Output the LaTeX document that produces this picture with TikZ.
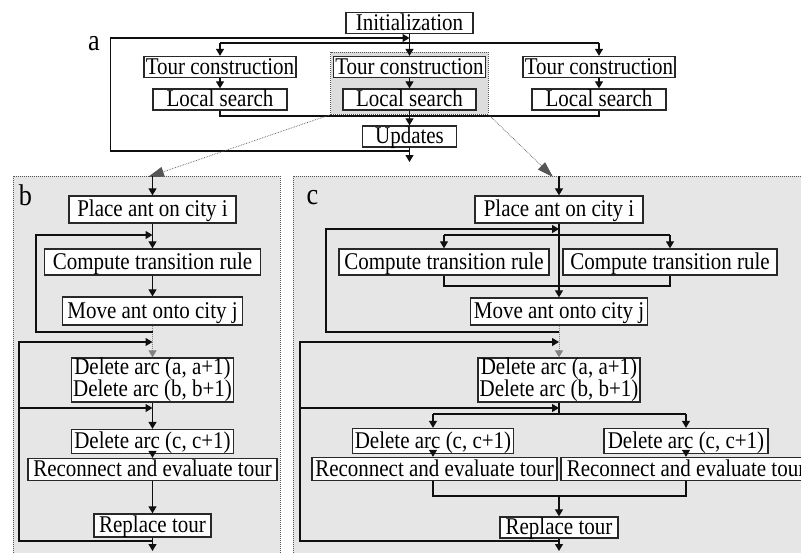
\documentclass[tikz,border=0pt]{standalone}
\usepackage{fontspec}
\setmainfont{Liberation Serif}[FakeStretch=0.875]
\usetikzlibrary{arrows.meta,positioning,fit,backgrounds}
\definecolor{panel}{RGB}{230,230,230}
\definecolor{ink}{RGB}{15,15,15}
\definecolor{rim}{RGB}{40,40,40}
\definecolor{dots}{RGB}{85,85,85}
\definecolor{soft}{RGB}{130,130,130}
\tikzset{
  every picture/.style={font=\fontsize{24}{22}\selectfont},
  blk/.style={draw=rim,fill=white,line width=1.3pt,inner sep=0pt,text height=16pt,text depth=2pt,minimum height=21pt},
  blktwo/.style={draw=rim,fill=white,line width=1.3pt,inner sep=0pt,align=center},
  wire/.style={ink,line width=1.1pt},
  flow/.style={wire,-{Triangle[width=8pt,length=7pt]}},
  lane/.style={draw=dots,fill=panel,densely dotted,line width=1pt},
  pick/.style={draw=dots,fill=panel!96!black,densely dotted,line width=1pt,inner xsep=2pt,inner ysep=3.5pt},
  zoomln/.style={dots,densely dotted,line width=0.7pt,-{Triangle[width=10pt,length=16pt]}},
  ghost/.style={soft,densely dotted,line width=1pt,-{Triangle[width=8pt,length=7pt]}},
  tag/.style={inner sep=0pt,font=\fontsize{30}{30}\selectfont},
}
\begin{document}
\begin{tikzpicture}[x=1pt,y=-1pt]
  \useasboundingbox (0,0) rectangle (801,552);
  \clip (0,0) rectangle (801,552);
  % panels
  \filldraw[lane] (13,176) rectangle (280,570);
  \filldraw[lane] (293,176) rectangle (820,570);
  % a
  \node[tag] (la) at (94,44) {a};
  \node[blk,minimum width=127pt] (init) at (409.5,23) {Initialization};
  \node[blk,minimum width=152pt] (tcl) at (220,67) {Tour construction};
  \node[blk,minimum width=152pt] (tcm) at (409.5,67) {Tour construction};
  \node[blk,minimum width=152pt] (tcr) at (599,67) {Tour construction};
  \node[blk,minimum width=134pt] (lsl) at (220,99.5) {Local search};
  \node[blk,minimum width=133pt] (lsm) at (409.5,99.5) {Local search};
  \node[blk,minimum width=134pt] (lsr) at (599,99.5) {Local search};
  \node[blk,minimum width=94pt] (upd) at (409.5,136.5) {Updates};
  \begin{scope}[on background layer]
    \node[pick,fit=(tcm)(lsm)] (hl) {};
  \end{scope}
  \coordinate (split) at (409.5,43);
  \coordinate (join) at (409.5,116);
  \coordinate (lpA) at (110.5,151);
  \coordinate (lpB) at (110.5,38);
  \coordinate (aout) at (409.5,162);
  \draw[flow] (init) -- (tcm);
  \draw[wire] (tcl.north |- split) -- (tcr.north |- split);
  \draw[flow] (tcl.north |- split) -- (tcl);
  \draw[flow] (tcr.north |- split) -- (tcr);
  \draw[flow] (tcl) -- (lsl);
  \draw[flow] (tcm) -- (lsm);
  \draw[flow] (tcr) -- (lsr);
  \draw[wire] (lsl) -- (lsl.south |- join) -- (lsr.south |- join) -- (lsr);
  \draw[flow] (lsm) -- (upd);
  \draw[flow] (upd) -- (aout);
  \draw[flow] (upd.south |- lpA) -- (lpA) -- (lpB) -- (init.south |- lpB);
  % zoom arrows
  \coordinate (btip) at (148,177);
  \coordinate (ctip) at (553,177);
  \draw[zoomln] (hl.south west) -- (btip);
  \draw[zoomln] (hl.south east) -- (ctip);
  % b
  \node[tag] (lb) at (25.5,195.5) {b};
  \node[blk,minimum width=167pt,minimum height=27pt] (plb) at (152.5,209.5) {Place ant on city i};
  \node[blk,minimum width=216pt,minimum height=26pt] (ctb) at (152.5,262) {Compute transition rule};
  \node[blk,minimum width=180pt,minimum height=28pt] (mvb) at (152.5,311) {Move ant onto city j};
  \node[blktwo,minimum width=162pt,minimum height=44pt] (dab) at (152.5,380) {Delete arc (a, a+1)\\Delete arc (b, b+1)};
  \node[blk,minimum width=162pt,minimum height=24pt] (dcb) at (152.5,441.5) {Delete arc (c, c+1)};
  \node[blk,minimum width=249pt,minimum height=22pt] (rcb) at (152.5,469.5) {Reconnect and evaluate tour};
  \node[blk,minimum width=117pt,minimum height=23pt] (rpb) at (152.5,525.5) {Replace tour};
  \coordinate (bin) at (152.5,176);
  \coordinate (b1a) at (36,332);
  \coordinate (b1b) at (36,235);
  \coordinate (b2a) at (19,541);
  \coordinate (b2b) at (19,342);
  \coordinate (b3) at (19,408);
  \coordinate (bout) at (152.5,551);
  \draw[flow] (bin) -- (plb);
  \draw[flow] (plb) -- (ctb);
  \draw[flow] (ctb) -- (mvb);
  \draw[ghost] (mvb) -- (dab);
  \draw[flow] (mvb.south |- b1a) -- (b1a) -- (b1b) -- (plb.south |- b1b);
  \draw[flow] (rpb.south |- b2a) -- (b2a) -- (b2b) -- (mvb.south |- b2b);
  \draw[flow] (b3) -- (dab.south |- b3);
  \draw[flow] (dab) -- (dcb);
  \draw[flow] (dcb) -- (rcb);
  \draw[flow] (rcb) -- (rpb);
  \draw[flow] (rpb) -- (bout);
  % c
  \node[tag] (lc) at (312.5,197.5) {c};
  \node[blk,minimum width=168pt,minimum height=27pt] (plc) at (559,209.5) {Place ant on city i};
  \node[blk,minimum width=210pt,minimum height=26pt] (ctl) at (444,262) {Compute transition rule};
  \node[blk,minimum width=214pt,minimum height=26pt] (ctr) at (670,262) {Compute transition rule};
  \node[blk,minimum width=177pt,minimum height=27pt] (mvc) at (559,311.5) {Move ant onto city j};
  \node[blktwo,minimum width=162pt,minimum height=44pt] (dac) at (559,380) {Delete arc (a, a+1)\\Delete arc (b, b+1)};
  \node[blk,minimum width=161pt,minimum height=25pt] (dcl) at (433,441) {Delete arc (c, c+1)};
  \node[blk,minimum width=164pt,minimum height=25pt] (dcr) at (686,441) {Delete arc (c, c+1)};
  \node[blk,minimum width=245pt,minimum height=23pt] (rcl) at (434.5,469) {Reconnect and evaluate tour};
  \node[blk,minimum width=250pt,minimum height=23pt] (rcr) at (686,469) {Reconnect and evaluate tour};
  \node[blk,minimum width=118pt,minimum height=21pt] (rpc) at (559,527.5) {Replace tour};
  \coordinate (cin) at (559,176);
  \coordinate (csplit) at (559,235);
  \coordinate (cjoin) at (559,286);
  \coordinate (c1a) at (326,332);
  \coordinate (c1b) at (326,229);
  \coordinate (c2a) at (300,541);
  \coordinate (c2b) at (300,342);
  \coordinate (c3) at (300,408);
  \coordinate (csplit2) at (559,414);
  \coordinate (cjoin2) at (559,496);
  \coordinate (cout) at (559,551);
  \draw[flow] (cin) -- (plc);
  \draw[flow] (plc) -- (mvc);
  \draw[wire] (ctl.north |- csplit) -- (ctr.north |- csplit);
  \draw[flow] (ctl.north |- csplit) -- (ctl);
  \draw[flow] (ctr.north |- csplit) -- (ctr);
  \draw[wire] (ctl) -- (ctl.south |- cjoin) -- (ctr.south |- cjoin) -- (ctr);
  \draw[flow] (mvc.south |- c1a) -- (c1a) -- (c1b) -- (plc.south |- c1b);
  \draw[ghost] (mvc) -- (dac);
  \draw[flow] (rpc.south |- c2a) -- (c2a) -- (c2b) -- (mvc.south |- c2b);
  \draw[flow] (c3) -- (dac.south |- c3);
  \draw[wire] (dac) -- (csplit2);
  \draw[wire] (dcl.north |- csplit2) -- (dcr.north |- csplit2);
  \draw[flow] (dcl.north |- csplit2) -- (dcl);
  \draw[flow] (dcr.north |- csplit2) -- (dcr);
  \draw[flow] (dcl) -- (dcl.south |- rcl.north);
  \draw[flow] (dcr) -- (dcr.south |- rcr.north);
  \draw[wire] (dcl.south |- rcl.south) -- (dcl.south |- cjoin2) -- (dcr.south |- cjoin2) -- (dcr.south |- rcr.south);
  \draw[flow] (cjoin2) -- (rpc);
  \draw[flow] (rpc) -- (cout);
\end{tikzpicture}
\end{document}
